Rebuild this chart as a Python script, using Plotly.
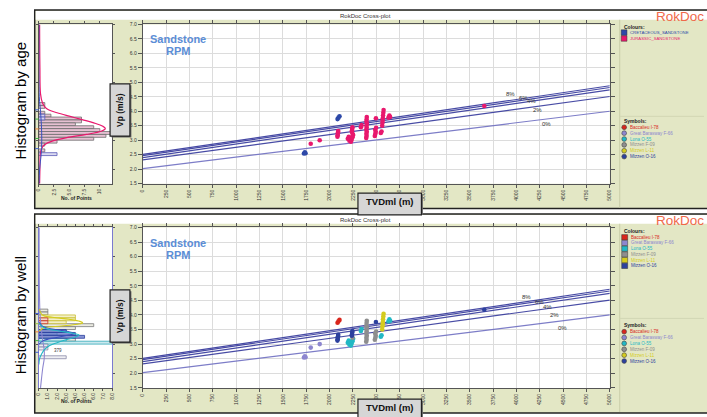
import plotly.graph_objects as go

W, H = 707, 417
FONT = "Liberation Sans"


def fx(px):
    return px / W


def fy(py):
    return 1 - py / H


# ---------------- tick labels ----------------
tvd_tickvals = [0, 250, 500, 750, 1000, 1250, 1500, 1750, 2000, 2250, 2500, 2750,
                3000, 3250, 3500, 3750, 4000, 4250, 4500, 4750, 5000]
tvd_ticktext = ["0", "250", "500", "750", "1000", "1250", "1500", "1750", "2000", "2250",
                "2500", "2750", "3000", "3250", "3500", "3750", "4000", "4250", "4500",
                "4750", "5000"]
vp_tickvals = [1.5, 2.0, 2.5, 3.0, 3.5, 4.0, 4.5, 5.0, 5.5, 6.0, 6.5, 7.0]
vp_ticktext = ["1.5", "2.0", "2.5", "3.0", "3.5", "4.0", "4.5", "5.0", "5.5", "6.0", "6.5", "7.0"]
hist_age_tickvals = [0, 2.5, 5, 7.5, 10]
hist_age_ticktext = ["0", "2.5", "5.0", "7.5", "10"]
hist_well_tickvals = [0, 1, 2, 3, 4, 5, 6, 7, 8]
hist_well_ticktext = ["0", "1.0", "2.0", "3.0", "4.0", "5.0", "6.0", "7.0", "8.0"]

# ---------------- RPM lines ----------------
rpm_labels = ["8%", "6%", "4%", "2%", "0%"]
rpm_tvd_ends = [0, 5000]
rpm_vp_at_0 = [2.51, 2.47, 2.40, 2.32, 2.02]
rpm_vp_at_5000 = [4.88, 4.82, 4.74, 4.51, 4.00]
rpm_label_tvd_top = [3936, 4074, 4160, 4223, 4319]
rpm_label_vp_top = [4.61, 4.47, 4.34, 4.03, 3.55]
rpm_label_tvd_bot = [4106, 4245, 4330, 4404, 4489]
rpm_label_vp_bot = [4.62, 4.45, 4.28, 4.01, 3.54]

# ---------------- well data (TVDml, Vp, age K=Cretaceous / J=Jurassic) ----------------
well_names = ["Baccalieu I-78", "Great Barasway F-66", "Lona O-55",
              "Mizzen F-09", "Mizzen L-11", "Mizzen O-16"]
well_colors = ["#d9261c", "#8d86cf", "#22b8c4", "#8e8e8e", "#d4cc1e", "#2c409e"]

baccalieu_tvd = [2085, 2095, 2106]
baccalieu_vp = [3.73, 3.78, 3.83]
baccalieu_age = ["K", "K", "K"]

barasway_tvd = [1725, 1735, 1742, 1798, 1894]
barasway_vp = [2.54, 2.58, 2.55, 2.88, 3.00]
barasway_age = ["K", "K", "K", "J", "J"]

lona_tvd = [2195, 2205, 2212, 2220, 2228, 2236, 2245, 2252, 2335, 2342, 2548, 2556,
            2630, 2640, 2648]
lona_vp = [3.05, 3.12, 2.98, 3.08, 2.95, 3.02, 3.10, 3.18, 3.45, 3.52, 3.25, 3.30,
           3.78, 3.85, 3.80]
lona_age = ["J"] * 15

f09_tvd = [2392, 2396, 2394, 2398, 2393, 2397, 2395, 2399, 2394, 2396, 2398,
           2484, 2490, 2494, 2488, 2498, 2246]
f09_vp = [3.08, 3.15, 3.22, 3.29, 3.36, 3.43, 3.50, 3.57, 3.64, 3.72, 3.80,
          3.15, 3.22, 3.29, 3.36, 3.43, 3.22]
f09_age = ["J"] * 17

l11_tvd = [2563, 2566, 2568, 2570, 2572, 2575, 2578]
l11_vp = [3.50, 3.60, 3.68, 3.76, 3.85, 3.95, 4.04]
l11_age = ["J"] * 7

o16_tvd = [2084, 2086, 2088, 2090, 2092, 2238, 2240, 2242, 2244, 2496, 3656]
o16_vp = [3.12, 3.17, 3.22, 3.27, 3.32, 3.29, 3.34, 3.40, 3.45, 3.76, 4.18]
o16_age = ["J"] * 11

wells_tvd = [baccalieu_tvd, barasway_tvd, lona_tvd, f09_tvd, l11_tvd, o16_tvd]
wells_vp = [baccalieu_vp, barasway_vp, lona_vp, f09_vp, l11_vp, o16_vp]
wells_age = [baccalieu_age, barasway_age, lona_age, f09_age, l11_age, o16_age]

age_names = ["CRETACEOUS_SANDSTONE", "JURASSIC_SANDSTONE"]
age_colors = ["#2e49a8", "#e8186d"]

# ---------------- histogram by age ----------------
jur_bins = [4.25, 4.15, 3.95, 3.85, 3.75, 3.65, 3.55, 3.45, 3.35, 3.25, 3.15, 3.05, 2.95, 2.85, 2.65]
jur_counts = [1, 1, 1, 2, 7, 7, 6, 9, 10, 12, 11, 9, 3, 1, 1]
cret_bins = [3.85, 3.75, 2.52]
cret_counts = [1, 1, 3]
jur_curve_vp = [7.0, 5.5, 4.6, 4.3, 4.15, 4.05, 3.95, 3.83, 3.71, 3.6, 3.48, 3.4, 3.31,
                3.2, 3.09, 2.97, 2.85, 2.7, 2.5, 2.0, 1.5]
jur_curve_n = [0.15, 0.2, 0.3, 0.6, 1.0, 1.6, 3.0, 5.0, 7.1, 9.0, 10.5, 10.9, 10.2,
               7.8, 4.6, 2.2, 1.0, 0.45, 0.25, 0.2, 0.15]
cret_curve_vp = [7.0, 4.5, 4.0, 3.5, 3.0, 2.5, 2.0, 1.5]
cret_curve_n = [0.05, 0.1, 0.3, 0.45, 0.5, 0.4, 0.15, 0.05]

# ---------------- histogram by well ----------------
hw_f09_bins = [4.15, 4.05, 3.65, 3.55, 3.45, 3.25, 3.15]
hw_f09_counts = [1, 1, 6, 4, 3, 4, 4]
hw_l11_bins = [3.95, 3.85, 3.75]
hw_l11_counts = [4, 4, 3]
hw_lona_bins = [3.35, 3.15, 3.05, 2.95]
hw_lona_counts = [2, 3, 9, 1]
hw_bar_bins = [2.95, 2.85, 2.55]
hw_bar_counts = [1, 1, 3]
hw_bac_bins = [3.85, 3.75]
hw_bac_counts = [1, 1]
hw_o16_bins = [3.45, 3.35, 3.25]
hw_o16_counts = [3, 4, 5]

l11_curve_vp = [4.2, 4.0, 3.92, 3.85, 3.78, 3.73, 3.68, 3.62, 3.56, 3.45]
l11_curve_n = [0.05, 0.4, 1.5, 3.3, 4.5, 4.8, 4.2, 2.5, 0.6, 0.05]
lona_curve_vp = [3.7, 3.55, 3.45, 3.38, 3.31, 3.24, 3.15, 3.05, 2.95, 2.8, 2.65, 2.5, 2.3]
lona_curve_n = [0.05, 0.6, 2.2, 3.6, 4.4, 4.0, 3.0, 2.0, 1.2, 0.6, 0.3, 0.1, 0.02]
o16_curve_vp = [3.75, 3.6, 3.5, 3.43, 3.37, 3.31, 3.22, 3.12, 3.0]
o16_curve_n = [0.05, 0.5, 1.8, 3.2, 3.9, 3.3, 1.8, 0.5, 0.05]
bar_curve_vp = [7.0, 4.0, 3.2, 2.8, 2.5, 2.2, 1.8, 1.5]
bar_curve_n = [0.05, 0.15, 0.4, 0.6, 0.6, 0.45, 0.3, 0.2]

# ---------------- figure ----------------
fig = go.Figure()

# --- top histogram (x, y)
fig.add_trace(go.Bar(x=jur_counts, y=jur_bins, orientation="h", width=0.1,
                     marker=dict(color="rgba(228,186,206,0.9)", line=dict(color="#6e6e6e", width=0.8)),
                     xaxis="x", yaxis="y", showlegend=False))
fig.add_trace(go.Bar(x=cret_counts, y=cret_bins, orientation="h", width=0.1,
                     marker=dict(color="rgba(214,214,240,0.9)", line=dict(color="#5a5ab8", width=0.8)),
                     xaxis="x", yaxis="y", showlegend=False))
fig.add_trace(go.Scatter(x=jur_curve_n, y=jur_curve_vp, mode="lines", line=dict(color="#e8186d", width=1.2, shape="spline"),
                         xaxis="x", yaxis="y", showlegend=False))
fig.add_trace(go.Scatter(x=cret_curve_n, y=cret_curve_vp, mode="lines", line=dict(color="#3a4fc0", width=1, shape="spline"),
                         xaxis="x", yaxis="y", showlegend=False))

# --- bottom histogram (x3, y3)
hw_sets = [
    (hw_f09_bins, hw_f09_counts, "rgba(232,232,222,0.9)", "#7a7a7a"),
    (hw_l11_bins, hw_l11_counts, "rgba(242,238,196,0.9)", "#c8bc30"),
    (hw_lona_bins, hw_lona_counts, "rgba(196,230,236,0.9)", "#30a8b8"),
    (hw_bar_bins, hw_bar_counts, "rgba(236,236,242,0.9)", "#8a8aa8"),
    (hw_bac_bins, hw_bac_counts, "rgba(244,208,200,0.9)", "#c83020"),
    (hw_o16_bins, hw_o16_counts, "rgba(96,112,200,0.75)", "#2c409e"),
]
for b, c, fc, lc in hw_sets:
    fig.add_trace(go.Bar(x=c, y=b, orientation="h", width=0.1,
                         marker=dict(color=fc, line=dict(color=lc, width=0.8)),
                         xaxis="x3", yaxis="y3", showlegend=False))
for cv, cn, col in [(bar_curve_vp, bar_curve_n, "#8d86cf"), (l11_curve_vp, l11_curve_n, "#d4cc1e"),
                    (o16_curve_vp, o16_curve_n, "#3a4fc0"), (lona_curve_vp, lona_curve_n, "#22b8c4")]:
    fig.add_trace(go.Scatter(x=cn, y=cv, mode="lines", line=dict(color=col, width=1.1, shape="spline"),
                             xaxis="x3", yaxis="y3", showlegend=False))

# --- RPM lines in both scatter plots
for xa, ya in [("x2", "y2"), ("x4", "y4")]:
    for i, lab in enumerate(rpm_labels):
        col = "#6f6fc2" if lab == "0%" else "#35399c"
        fig.add_trace(go.Scatter(x=rpm_tvd_ends, y=[rpm_vp_at_0[i], rpm_vp_at_5000[i]], mode="lines",
                                 line=dict(color=col, width=1.2), opacity=0.9,
                                 xaxis=xa, yaxis=ya, showlegend=False, hoverinfo="skip"))

# --- top scatter: coloured by age
age_tvd = {"K": [], "J": []}
age_vp = {"K": [], "J": []}
for tv, vv, ag in zip(wells_tvd, wells_vp, wells_age):
    for t, v, a in zip(tv, vv, ag):
        age_tvd[a].append(t)
        age_vp[a].append(v)
fig.add_trace(go.Scatter(x=age_tvd["J"], y=age_vp["J"], mode="markers",
                         marker=dict(color=age_colors[1], size=4.6), xaxis="x2", yaxis="y2", showlegend=False))
fig.add_trace(go.Scatter(x=age_tvd["K"], y=age_vp["K"], mode="markers",
                         marker=dict(color=age_colors[0], size=4.6), xaxis="x2", yaxis="y2", showlegend=False))

# --- bottom scatter: coloured by well
for name, col, tv, vv in zip(well_names, well_colors, wells_tvd, wells_vp):
    fig.add_trace(go.Scatter(x=tv, y=vv, mode="markers", name=name,
                             marker=dict(color=col, size=4.6), xaxis="x4", yaxis="y4", showlegend=False))

# ---------------- axes ----------------
TOP_Y = [fy(183.3), fy(21.7)]
BOT_Y = [fy(390.5), fy(227.7)]
HIST_X = [fx(36), fx(110)]
SC_X = [fx(141), fx(612)]
tickfont = dict(size=5, color="#333", family=FONT)


def hist_x(anchor, rng, tv, tt):
    return dict(domain=HIST_X, anchor=anchor, range=rng, tickvals=tv, ticktext=tt, tickangle=-90,
                tickfont=tickfont, ticks="outside", ticklen=2, tickcolor="#555", showline=True,
                linecolor="#555", linewidth=1, mirror="ticks", showgrid=False, zeroline=False)


def hist_y(anchor, dom, lc):
    return dict(domain=dom, anchor=anchor, range=[1.5, 7], dtick=1, showticklabels=False,
                ticks="outside", ticklen=2, tickcolor="#555", showline=True, linecolor=lc,
                linewidth=1, mirror="ticks", showgrid=False, zeroline=False)


def sc_x(anchor):
    return dict(domain=SC_X, anchor=anchor, range=[0, 5000], tickvals=tvd_tickvals, ticktext=tvd_ticktext,
                tickangle=-90, tickfont=tickfont, ticks="outside", ticklen=3, tickcolor="#555",
                showline=True, linecolor="#555", linewidth=1, mirror="ticks", showgrid=True,
                gridcolor="#dcdcdc", gridwidth=1, zeroline=False)


def sc_y(anchor, dom):
    return dict(domain=dom, anchor=anchor, range=[1.5, 7], tickvals=vp_tickvals, ticktext=vp_ticktext,
                tickfont=tickfont, ticks="outside", ticklen=4, tickcolor="#555", showline=True,
                linecolor="#555", linewidth=1, mirror="ticks", showgrid=True, gridcolor="#dcdcdc",
                gridwidth=1, zeroline=False)


fig.update_layout(
    xaxis=hist_x("y", [0, 12], hist_age_tickvals, hist_age_ticktext),
    yaxis=hist_y("x", TOP_Y, "#555"),
    xaxis2=sc_x("y2"),
    yaxis2=sc_y("x2", TOP_Y),
    xaxis3=hist_x("y3", [0, 8], hist_well_tickvals, hist_well_ticktext),
    yaxis3=hist_y("x3", BOT_Y, "#7a7ad0"),
    xaxis4=sc_x("y4"),
    yaxis4=sc_y("x4", BOT_Y),
    barmode="overlay",
)

# ---------------- shapes ----------------
shapes = []


def rect(x0, y0, x1, y1, fill, line=None, lw=0, layer="below"):
    shapes.append(dict(type="rect", xref="paper", yref="paper", x0=fx(x0), x1=fx(x1), y0=fy(y1), y1=fy(y0),
                       fillcolor=fill, line=dict(color=line or fill, width=lw), layer=layer))


def seg(x0, y0, x1, y1, col, lw=1, layer="below"):
    shapes.append(dict(type="line", xref="paper", yref="paper", x0=fx(x0), x1=fx(x1), y0=fy(y0), y1=fy(y1),
                       line=dict(color=col, width=lw), layer=layer))


def circ(cx, cy, r, fill, line):
    shapes.append(dict(type="circle", xref="paper", yref="paper", x0=fx(cx - r), x1=fx(cx + r),
                       y0=fy(cy + r), y1=fy(cy - r), fillcolor=fill, line=dict(color=line, width=0.6),
                       layer="above"))


GREEN = "#e3e7c5"
panels = [dict(top=7, strip=17, bottom=208.5, hist_top=21.7, hist_bot=183.3, div_y=115),
          dict(top=214, strip=224, bottom=416, hist_top=227.7, hist_bot=390.5, div_y=320)]
for p in panels:
    rect(32, p["top"], 712, p["bottom"], GREEN, "#222", 1.5)
    rect(33, p["top"] + 1, 712, p["strip"], "#ffffff")
    rect(36, p["hist_top"], 110, p["hist_bot"], "#ffffff")
    rect(141, p["hist_top"], 612, p["hist_bot"], "#ffffff")
    seg(622, p["strip"], 622, p["bottom"] - 1, "#c9cda9", 1)
    seg(622, p["div_y"], 707, p["div_y"], "#d2d6b4", 1)

# mean / std marks at the left of the histograms
marks_top = [(4.05, "#4060d0"), (3.73, "#40b040"), (3.39, "#f08030"), (3.06, "#40b040"), (2.71, "#4060d0")]
marks_bot = [(4.05, "#4060d0"), (3.70, "#9cc040"), (3.42, "#f08030"), (3.12, "#40b040"), (2.72, "#4060d0")]
for p, marks in zip(panels, [marks_top, marks_bot]):
    for v, col in marks:
        yy = p["hist_top"] + (7 - v) / 5.5 * (p["hist_bot"] - p["hist_top"])
        seg(32.5, yy, 36, yy, col, 1, "above")

# label boxes (Vp / TVDml)
for p in panels:
    vy0 = p["top"] + 75 if p is panels[0] else p["top"] + 77
    rect(109.5, vy0 + 1.5, 129.5, vy0 + 54.5, "#666666", layer="above")
    rect(108, vy0, 128, vy0 + 53, "#d6d6d6", "#222", 1.2, layer="above")
    ty0 = p["bottom"] - 15.5 if p is panels[0] else p["bottom"] - 14
    rect(359.5, ty0 + 1.5, 423.5, ty0 + 22, "#666666", layer="above")
    rect(358, ty0, 422, ty0 + 22, "#d6d6d6", "#222", 1.2, layer="above")

# ---------------- annotations ----------------
anns = []


def txt(s, x, y, size, color="#222", xa="center", ya="middle", angle=0, family=FONT):
    anns.append(dict(text=s, x=fx(x), y=fy(y), xref="paper", yref="paper", showarrow=False,
                     xanchor=xa, yanchor=ya, textangle=angle, font=dict(size=size, color=color, family=family)))


txt("Histogram by age", 18, 99, 15, "#000", angle=-90)
txt("Histogram by well", 18, 317, 15, "#000", angle=-90)

for p in panels:
    base = p["top"]
    txt("RokDoc Cross-plot", 366, base + 6.5, 6, "#333")
    txt("RokDoc", 657, base + 7, 13.5, "#f0694a", xa="left")
    txt("<b>Sandstone</b>", 176, base + 30, 11, "#5b8dd6")
    txt("<b>RPM</b>", 177, base + 42, 11, "#5b8dd6")
    txt("<b>No. of Points</b>", 74, p["hist_bot"] + 14.5 if p is panels[0] else p["hist_bot"] + 13, 5, "#222")
    vy0 = p["top"] + 75 if p is panels[0] else p["top"] + 77
    txt("<b>Vp (m/s)</b>", 118, vy0 + 26.5, 8.5, "#111", angle=-90)
    ty0 = p["bottom"] - 15.5 if p is panels[0] else p["bottom"] - 14
    txt("<b>TVDml (m)</b>", 390, ty0 + 8.5, 9.5, "#111")

# RPM labels
for i, lab in enumerate(rpm_labels):
    anns.append(dict(text=lab, x=rpm_label_tvd_top[i], y=rpm_label_vp_top[i], xref="x2", yref="y2",
                     showarrow=False, font=dict(size=6, color="#333", family=FONT)))
    anns.append(dict(text=lab, x=rpm_label_tvd_bot[i], y=rpm_label_vp_bot[i], xref="x4", yref="y4",
                     showarrow=False, font=dict(size=6, color="#333", family=FONT)))

txt("379", 49, 353, 4.5, "#333", xa="left")

# legends
# top: colours by age
txt("<b>Colours:</b>", 624.5, 24, 5, "#222", xa="left")
for i, (nm, col) in enumerate(zip(age_names, age_colors)):
    cy = 30 + 6 * i
    rect(623.5, cy - 2.8, 629.3, cy + 2.8, col, "#333", 0.5, layer="above")
    txt(nm, 630.5, cy, 4.3, col, xa="left")
# bottom: colours by well
txt("<b>Colours:</b>", 624.5, 231, 5, "#222", xa="left")
for i, (nm, col) in enumerate(zip(well_names, well_colors)):
    cy = 237.7 + 5.8 * i
    rect(624, cy - 2.7, 630, cy + 2.7, col, "#333", 0.5, layer="above")
    txt(nm, 631, cy, 4.5, col, xa="left")
# symbols (both panels)
for sy0 in [119.3, 326.7]:
    txt("<b>Symbols:</b>", 624.5, sy0, 5, "#222", xa="left")
    for i, (nm, col) in enumerate(zip(well_names, well_colors)):
        cy = sy0 + 6.8 + 5.95 * i
        circ(626.5, cy, 2.4, col, "#444")
        txt(nm, 630.5, cy, 4.5, col, xa="left")

fig.update_layout(
    width=W, height=H, margin=dict(l=0, r=0, t=0, b=0),
    paper_bgcolor="#ffffff", plot_bgcolor="#ffffff",
    shapes=shapes, annotations=anns, showlegend=False,
    font=dict(family=FONT),
)

fig.write_html("out.html", config={"displayModeBar": False},
               post_script="document.body.style.margin='0';document.body.style.overflow='hidden';")
